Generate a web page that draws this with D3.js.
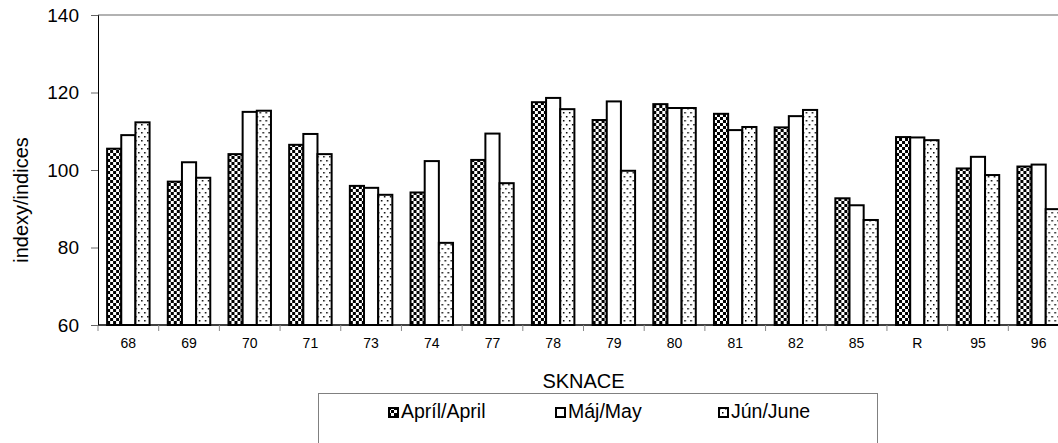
<!DOCTYPE html>
<html lang="sk">
<head>
<meta charset="UTF-8" />
<title>indexy/indices</title>
<style>
  * { margin: 0; padding: 0; }
  body { background: #fff; overflow: hidden; }
  svg { display: block; font-family: "Liberation Sans", Arial, sans-serif; }
</style>
</head>
<body>
<script src="https://d3js.org/d3.v7.min.js"></script>
<script>
// data
const categories = ["68", "69", "70", "71", "73", "74", "77", "78", "79", "80", "81", "82", "85", "R", "95", "96"];
const seriesNames = ["Apríl/April", "Máj/May", "Jún/June"];
const april = [105.5, 97.0, 104.1, 106.5, 95.9, 94.2, 102.6, 117.5, 112.9, 117.0, 114.5, 111.0, 92.7, 108.5, 100.4, 100.9];
const may   = [109.0, 102.0, 115.0, 109.3, 95.4, 102.3, 109.4, 118.6, 117.7, 116.0, 110.3, 113.9, 90.9, 108.4, 103.4, 101.4];
const june  = [112.3, 98.0, 115.3, 104.1, 93.6, 81.2, 96.6, 115.7, 99.8, 116.0, 111.1, 115.5, 87.1, 107.7, 98.7, 89.9];
const yTicks = [60, 80, 100, 120, 140];

const width = 1058, height = 443;
const margin = { top: 15, left: 98 };
const plotW = 971, plotH = 310;

const svg = d3.select("body").append("svg")
  .attr("width", width).attr("height", height);

// fill patterns
const defs = svg.append("defs");
const chk = defs.append("pattern").attr("id", "chk")
  .attr("patternUnits", "userSpaceOnUse").attr("width", 6).attr("height", 6);
chk.append("rect").attr("width", 6).attr("height", 6).attr("fill", "#fff");
chk.append("rect").attr("width", 3).attr("height", 3).attr("fill", "#000");
chk.append("rect").attr("x", 3).attr("y", 3).attr("width", 3).attr("height", 3).attr("fill", "#000");

const dots = defs.append("pattern").attr("id", "dots")
  .attr("patternUnits", "userSpaceOnUse").attr("width", 6).attr("height", 8);
dots.append("rect").attr("width", 6).attr("height", 8).attr("fill", "#fff");
dots.append("rect").attr("x", 1).attr("y", 1).attr("width", 1.5).attr("height", 1.5).attr("fill", "#000");
dots.append("rect").attr("x", 4).attr("y", 5).attr("width", 1.5).attr("height", 1.5).attr("fill", "#000");

const fills = ["url(#chk)", "#fff", "url(#dots)"];

const data = categories.map((c, i) => ({ cat: c, values: [april[i], may[i], june[i]] }));

const x0 = d3.scaleBand().domain(categories).range([0, plotW]).paddingInner(0.3).paddingOuter(0.15);
const x1 = d3.scaleBand().domain(d3.range(seriesNames.length)).range([0, x0.bandwidth()]);
const y = d3.scaleLinear().domain([60, 140]).range([plotH, 0]);

const g = svg.append("g").attr("transform", `translate(${margin.left},${margin.top})`);

// plot frame (top and right in grey)
g.append("path")
  .attr("d", `M0,0H${plotW}V${plotH}`)
  .attr("fill", "none").attr("stroke", "#999").attr("stroke-width", 1.5);

// bars
const groups = g.selectAll(".grp").data(data).join("g")
  .attr("class", "grp")
  .attr("transform", d => `translate(${x0(d.cat)},0)`);

groups.selectAll("rect")
  .data(d => d.values.map((v, k) => ({ v, k })))
  .join("rect")
  .attr("x", d => x1(d.k))
  .attr("y", d => y(d.v))
  .attr("width", x1.bandwidth())
  .attr("height", d => plotH - y(d.v))
  .attr("fill", d => fills[d.k])
  .attr("stroke", "#000")
  .attr("stroke-width", 2);

// y axis
const yAxis = g.append("g")
  .call(d3.axisLeft(y).tickValues(yTicks).tickSize(7).tickPadding(12));
yAxis.select(".domain").attr("stroke", "#000");
yAxis.selectAll(".tick line").attr("stroke", "#666");
yAxis.selectAll("text").attr("font-size", 19).attr("font-family", "Liberation Sans, Arial").attr("fill", "#000");

// x axis: separators between categories, labels centred
const xa = g.append("g").attr("transform", `translate(0,${plotH})`);
xa.append("line").attr("x1", 0).attr("x2", plotW).attr("stroke", "#000").attr("stroke-width", 1.5);
xa.selectAll(".sep").data(categories).join("line")
  .attr("class", "sep")
  .attr("x1", (d, i) => i * x0.step()).attr("x2", (d, i) => i * x0.step())
  .attr("y1", 0).attr("y2", 6)
  .attr("stroke", "#888");
xa.selectAll(".lbl").data(categories).join("text")
  .attr("class", "lbl")
  .attr("x", d => x0(d) + x0.bandwidth() / 2)
  .attr("y", 23)
  .attr("text-anchor", "middle")
  .attr("font-size", 14)
  .text(d => d);

// axis titles
svg.append("text")
  .attr("transform", "translate(28,200) rotate(-90)")
  .attr("text-anchor", "middle")
  .attr("font-size", 20)
  .text("indexy/indices");

svg.append("text")
  .attr("x", margin.left + plotW / 2).attr("y", 388)
  .attr("text-anchor", "middle")
  .attr("font-size", 20)
  .text("SKNACE");

// legend
const legend = svg.append("g");
legend.append("rect")
  .attr("x", 318.5).attr("y", 393.5).attr("width", 559).attr("height", 80)
  .attr("fill", "#fff").attr("stroke", "#808080");
const legX = [388, 555, 718];
const items = legend.selectAll(".item").data(seriesNames).join("g")
  .attr("class", "item")
  .attr("transform", (d, i) => `translate(${legX[i]},407)`);
items.append("rect")
  .attr("x", 1).attr("y", 1).attr("width", 9).attr("height", 9)
  .attr("fill", (d, i) => fills[i]).attr("stroke", "#000").attr("stroke-width", 2);
items.append("text")
  .attr("x", 13).attr("y", 11)
  .attr("font-size", 19.5)
  .text(d => d);
</script>
</body>
</html>
